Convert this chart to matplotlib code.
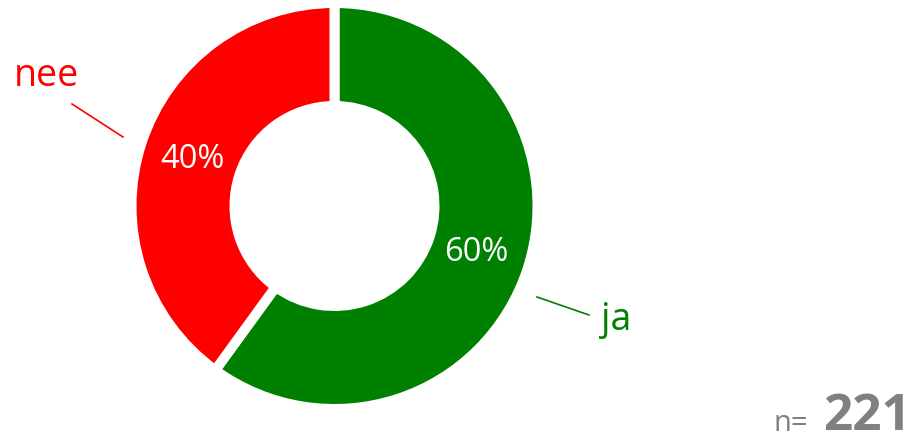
import matplotlib
matplotlib.use("Agg")
import matplotlib.pyplot as plt
import numpy as np

labels = ["ja", "nee"]
values = [60, 40]
colors = ["#008000", "#ff0000"]
n_total = 221

plt.rcParams['font.family'] = ['Open Sans', 'DejaVu Sans']

fig = plt.figure(figsize=(9.13, 4.38), dpi=100)
ax = fig.add_axes([0, 0, 1, 1])

cx, cy = 334.5, 438 - 206
r_out, r_in = 203, 100

wedges, _ = ax.pie(values, colors=colors, startangle=90, counterclock=False,
                   center=(cx, cy), radius=r_out, frame=True,
                   wedgeprops=dict(width=r_out - r_in, edgecolor='white', linewidth=7.2))
ax.set_xlim(0, 913)
ax.set_ylim(0, 438)
ax.set_aspect('equal')
ax.axis('off')

# percentage labels in the middle of each ring segment
r_mid = (r_out + r_in) / 2 - 2
for w, v in zip(wedges, values):
    ang = np.deg2rad((w.theta1 + w.theta2) / 2)
    ax.text(cx + r_mid * np.cos(ang), cy + r_mid * np.sin(ang), f"{v}%",
            color='white', fontsize=23.5, ha='center', va='center')

# outside labels with leader lines
ax.plot([537, 589], [438 - 297, 438 - 315], color=colors[0], lw=1.2)
ax.text(601, 438 - 320, labels[0], color=colors[0], fontsize=27, ha='left', va='center')
ax.plot([72, 123], [438 - 104, 438 - 137], color=colors[1], lw=1.2)
ax.text(46, 438 - 76, labels[1], color=colors[1], fontsize=27, ha='center', va='center')

ax.text(808, 438 - 431, "n=", color='#808080', fontsize=21, ha='right', va='baseline')
ax.text(911, 438 - 430, str(n_total), color='#808080', fontsize=37, fontweight='bold',
        ha='right', va='baseline')

fig.savefig("out.png", dpi=100)
